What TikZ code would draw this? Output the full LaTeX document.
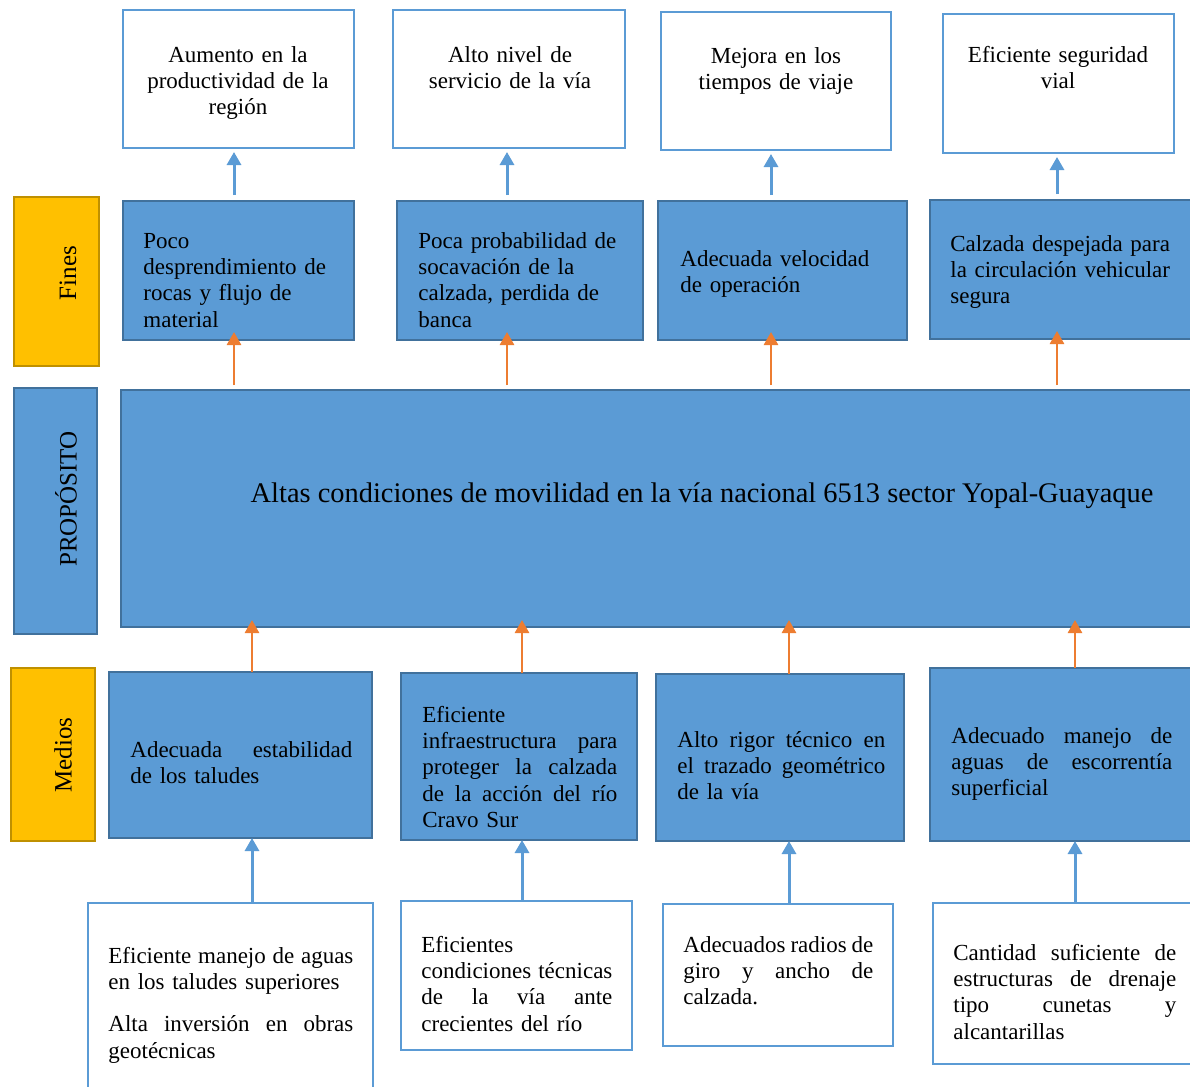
\documentclass[tikz,border=0pt]{standalone}
\usepackage{fontspec}
\setmainfont{Liberation Serif}
\usetikzlibrary{arrows.meta}
\definecolor{mAzul}{HTML}{5B9BD5}
\definecolor{mAzulOsc}{HTML}{41719C}
\definecolor{mAmarillo}{HTML}{FFC000}
\definecolor{mOro}{HTML}{BF9000}
\definecolor{mNaranja}{HTML}{ED7D31}
\newcommand{\letra}{\fontsize{11.5}{13.2}\selectfont\hyphenpenalty=10000\exhyphenpenalty=10000}
\newcommand{\jsp}{\nobreak\hspace{0pt plus 1filll}}
% caja: nombre, x1, y1, x2, y2, estilo (en pixeles de la figura)
\newcommand{\caja}[6]{%
 \node[#6, minimum width={(#4-#2)*0.5pt}, minimum height={(#5-#3)*0.5pt}] (#1) at ({(#2+#4)/2},{(#3+#5)/2}) {};}
\tikzset{
 blanca/.style={draw=mAzul, line width=1pt, fill=white, inner sep=0pt, outer sep=0pt},
 azul/.style={draw=mAzulOsc, line width=0.9pt, fill=mAzul, inner sep=0pt, outer sep=0pt},
 amarilla/.style={draw=mOro, line width=0.6pt, fill=mAmarillo, inner sep=0pt, outer sep=0pt},
 txt/.style={inner sep=0pt, font=\letra, align=left, anchor=base west},
 txtc/.style={txt, align=center, anchor=base},
 rotulo/.style={inner sep=0pt, font=\fontsize{12.5}{14}\selectfont, rotate=90, anchor=center},
 flechaA/.style={draw=mAzul, line width=1.5pt, -{Triangle[width=7pt,length=6.5pt]}},
 flechaN/.style={draw=mNaranja, line width=1.3pt, -{Triangle[width=7pt,length=6.5pt]}}
}
\begin{document}
\begin{tikzpicture}[x=0.5pt, y=-0.5pt]
\path[use as bounding box, fill=white] (0,0) rectangle (1190,1087);

% rotulos
\caja{lfines}{14}{197}{99}{366}{amarilla}
\caja{lprop}{14}{388}{97}{634}{azul}
\caja{lmedios}{11}{668}{95}{841}{amarilla}
\node[rotulo] (lfinest) at (68,273) {Fines};
\node[rotulo] (lpropt) at (66,499) {PROPÓSITO};
\node[rotulo] (lmediost) at (63,755) {Medios};

% fines superiores
\caja{a1}{123}{10}{354}{148}{blanca}
\caja{a2}{393}{10}{625}{148}{blanca}
\caja{a3}{661}{12}{891}{150}{blanca}
\caja{a4}{943}{14}{1174}{153}{blanca}
\node[txtc, text width=115pt] (a1t) at (238,62) {Aumento en la\\ productividad de la\\ región};
\node[txtc, text width=115pt] (a2t) at (510,62) {Alto nivel de\\ servicio de la vía};
\node[txtc, text width=115pt] (a3t) at (776,63) {Mejora en los\\ tiempos de viaje};
\node[txtc, text width=115pt] (a4t) at (1058,62) {Eficiente seguridad\\ vial};

% fines
\caja{b1}{123}{201}{354}{340}{azul}
\caja{b2}{397}{201}{643}{340}{azul}
\caja{b3}{658}{201}{907}{340}{azul}
\caja{b4}{930}{200}{1194}{339}{azul}
\node[txt, text width=110pt] (b1t) at (143,248) {Poco\\ desprendimiento de\\ rocas y flujo de\\ material};
\node[txt, text width=115pt] (b2t) at (418,248) {Poca probabilidad de\\ socavación de la\\ calzada, perdida de\\ banca};
\node[txt, text width=110pt] (b3t) at (680,266) {Adecuada velocidad\\ de operación};
\node[txt, text width=125pt] (b4t) at (950,251) {Calzada despejada para\\ la circulación vehicular\\ segura};

% proposito
\caja{prop}{121}{390}{1194}{627}{azul}
\node[inner sep=0pt, font=\fontsize{14.2}{16}\selectfont, anchor=base] (propt) at (702,502) {Altas condiciones de movilidad en la vía nacional 6513 sector Yopal-Guayaque};

% medios
\caja{c1}{109}{672}{372}{838}{azul}
\caja{c2}{401}{673}{637}{840}{azul}
\caja{c3}{656}{674}{904}{841}{azul}
\caja{c4}{930}{668}{1194}{841}{azul}
\node[txt, text width=111pt] (c1t) at (130,757) {Adecuada\jsp estabilidad\\ de los taludes};
\node[txt, text width=97.5pt] (c2t) at (422,722) {Eficiente\\ infraestructura\jsp para\\ proteger\jsp la\jsp calzada\\ de\jsp la\jsp acción\jsp del\jsp río\\ Cravo Sur};
\node[txt, text width=104pt] (c3t) at (677,747) {Alto\jsp rigor\jsp técnico\jsp en\\ el\jsp trazado\jsp geométrico\\ de la vía};
\node[txt, text width=110.5pt] (c4t) at (951,743) {Adecuado\jsp manejo\jsp de\\ aguas\jsp de\jsp escorrentía\\ superficial};

% medios inferiores
\caja{d1}{88}{903}{373}{1092}{blanca}
\caja{d2}{401}{901}{632}{1050}{blanca}
\caja{d3}{663}{904}{893}{1046}{blanca}
\caja{d4}{933}{903}{1194}{1064}{blanca}
\node[txt, text width=122.5pt] (d1t) at (108,963) {Eficiente\jsp manejo\jsp de\jsp aguas\\ en los taludes superiores\\[8pt] Alta\jsp inversión\jsp en\jsp obras\\ geotécnicas};
\node[txt, text width=95.5pt] (d2t) at (421,952) {Eficientes\\ condiciones\jsp técnicas\\ de\jsp la\jsp vía\jsp ante\\ crecientes del río};
\node[txt, text width=95pt] (d3t) at (683,952) {Adecuados\jsp radios\jsp de\\ giro\jsp y\jsp ancho\jsp de\\ calzada.};
\node[txt, text width=111.5pt] (d4t) at (953,960) {Cantidad\jsp suficiente\jsp de\\ estructuras\jsp de\jsp drenaje\\ tipo\jsp cunetas\jsp y\\ alcantarillas};

% columnas de flechas
\coordinate (u1) at (234,0);
\coordinate (u2) at (507,0);
\coordinate (u3) at (771,0);
\coordinate (u4) at (1057,0);
\coordinate (l1) at (252,0);
\coordinate (l2) at (522,0);
\coordinate (l3) at (789,0);
\coordinate (l4) at (1075,0);

\draw[flechaA, shorten <=3pt, shorten >=2pt] (b1.north -| u1) -- (a1.south -| u1);
\draw[flechaA, shorten <=3pt, shorten >=2pt] (b2.north -| u2) -- (a2.south -| u2);
\draw[flechaA, shorten <=3pt, shorten >=2pt] (b3.north -| u3) -- (a3.south -| u3);
\draw[flechaA, shorten <=3pt, shorten >=2pt] (b4.north -| u4) -- (a4.south -| u4);

\draw[flechaN, shorten <=2.5pt, shorten >=-4pt] (prop.north -| u1) -- (b1.south -| u1);
\draw[flechaN, shorten <=2.5pt, shorten >=-4pt] (prop.north -| u2) -- (b2.south -| u2);
\draw[flechaN, shorten <=2.5pt, shorten >=-4pt] (prop.north -| u3) -- (b3.south -| u3);
\draw[flechaN, shorten <=2.5pt, shorten >=-4pt] (prop.north -| u4) -- (b4.south -| u4);

\draw[flechaN, shorten >=-3.5pt] (c1.north -| l1) -- (prop.south -| l1);
\draw[flechaN, shorten >=-3.5pt] (c2.north -| l2) -- (prop.south -| l2);
\draw[flechaN, shorten >=-3.5pt] (c3.north -| l3) -- (prop.south -| l3);
\draw[flechaN, shorten >=-3.5pt] (c4.north -| l4) -- (prop.south -| l4);

\draw[flechaA] (d1.north -| l1) -- (c1.south -| l1);
\draw[flechaA] (d2.north -| l2) -- (c2.south -| l2);
\draw[flechaA] (d3.north -| l3) -- (c3.south -| l3);
\draw[flechaA] (d4.north -| l4) -- (c4.south -| l4);
\end{tikzpicture}
\end{document}
